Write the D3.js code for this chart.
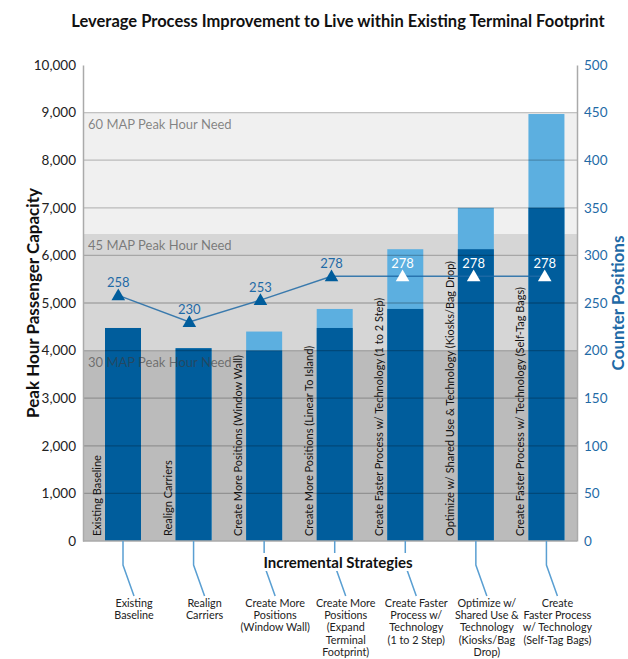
<!DOCTYPE html>
<html>
<head>
<meta charset="utf-8">
<script src="https://d3js.org/d3.v7.min.js"></script>
<style>
  body { margin: 0; background: #fff; }
  svg { font-family: Lato, "Open Sans", sans-serif; }
</style>
</head>
<body>
<script>
//wrap script in a self-executing function
(function() {

//chart data
    var categories = ['Existing Baseline', 'Realign Carriers', 'Create More Positions (Window Wall)',
        'Create More Positions (Linear To Island)', 'Create Faster Process w/ Technology (1 to 2 Step)',
        'Optimize w/ Shared Use & Technology (Kiosks/Bag Drop)', 'Create Faster Process w/ Technology (Self-Tag Bags)'];
    var baseCapacity = [4475, 4050, 4000, 4475, 4875, 6130, 7000];     //dark blue part
    var addedCapacity = [0, 0, 400, 400, 1255, 870, 1970];             //light blue part on top
    var counterPositions = [258, 230, 253, 278, 278, 278, 278];
    var bottomLabels = [
        ['Existing', 'Baseline'],
        ['Realign', 'Carriers'],
        ['Create More', 'Positions', '(Window Wall)'],
        ['Create More', 'Positions', '(Expand', 'Terminal', 'Footprint)'],
        ['Create Faster', 'Process w/', 'Technology', '(1 to 2 Step)'],
        ['Optimize w/', 'Shared Use &', 'Technology', '(Kiosks/Bag', 'Drop)'],
        ['Create', 'Faster Process', 'w/ Technology', '(Self-Tag Bags)']
    ];
    var needBands = [
        {label: '60 MAP Peak Hour Need', lo: 6450, hi: 9000, color: '#f0f0f0'},
        {label: '45 MAP Peak Hour Need', lo: 4000, hi: 6450, color: '#d6d6d6'},
        {label: '30 MAP Peak Hour Need', lo: 0, hi: 4000, color: '#bbbbbb'}
    ];
    var leftTicks = d3.range(0, 10001, 1000);
    var rightTicks = d3.range(0, 501, 50);

//frame dimensions
    var width = 628,
        height = 659,
        plotLeft = 83,
        plotRight = 577,
        plotTop = 65,
        plotBottom = 541;

    var darkBlue = '#005d9c',
        lightBlue = '#5cafe0',
        lineBlue = '#1f6aa6';

    var svg = d3.select('body')
        .append('svg')
        .attr('width', width)
        .attr('height', height);

    //scales
    var x = d3.scaleBand()
        .domain(categories)
        .range([plotLeft, plotRight]);

    var yLeft = d3.scaleLinear()
        .domain([0, 10000])
        .range([plotBottom, plotTop]);

    var yRight = d3.scaleLinear()
        .domain([0, 500])
        .range([plotBottom, plotTop]);

    var barOffset = 22,
        barWidth = 36;

    function barCenter(c) {
        return x(c) + barOffset + barWidth / 2;
    }

    //point scale for the counter line
    var xp = d3.scalePoint()
        .domain(categories)
        .range([x(categories[0]) + x.bandwidth() / 2, x(categories[6]) + x.bandwidth() / 2 + 3]);

    //title
    svg.append('text')
        .attr('x', 338)
        .attr('y', 27)
        .attr('text-anchor', 'middle')
        .style('font-size', '16.5px')
        .style('font-weight', 'bold')
        .style('fill', '#111')
        .text('Leverage Process Improvement to Live within Existing Terminal Footprint');

    //background need bands
    svg.selectAll('.band')
        .data(needBands)
        .enter()
        .append('rect')
        .attr('class', 'band')
        .attr('x', plotLeft)
        .attr('width', plotRight - plotLeft)
        .attr('y', function(d) { return yLeft(d.hi); })
        .attr('height', function(d) { return yLeft(d.lo) - yLeft(d.hi); })
        .style('fill', function(d) { return d.color; });

    //rotated category labels inside each band
    svg.selectAll('.catLabel')
        .data(categories)
        .enter()
        .append('text')
        .attr('class', 'catLabel')
        .attr('transform', function(d) {
            return 'translate(' + (x(d) + 18) + ',' + (plotBottom - 5) + ') rotate(-90)';
        })
        .style('font-size', '11px')
        .style('fill', '#111')
        .text(function(d) { return d; });

    //bars
    var bars = svg.selectAll('.bar')
        .data(categories)
        .enter()
        .append('g')
        .attr('class', 'bar');

    bars.append('rect')
        .attr('x', function(d) { return x(d) + barOffset; })
        .attr('width', barWidth)
        .attr('y', function(d, i) { return yLeft(baseCapacity[i] + addedCapacity[i]); })
        .attr('height', function(d, i) { return yLeft(0) - yLeft(baseCapacity[i] + addedCapacity[i]); })
        .style('fill', lightBlue);

    bars.append('rect')
        .attr('x', function(d) { return x(d) + barOffset; })
        .attr('width', barWidth)
        .attr('y', function(d, i) { return yLeft(baseCapacity[i]); })
        .attr('height', function(d, i) { return yLeft(0) - yLeft(baseCapacity[i]); })
        .style('fill', darkBlue);

    //gridlines drawn over the bars
    svg.selectAll('.grid')
        .data(leftTicks.filter(function(t) { return t > 0 && t < 10000; }))
        .enter()
        .append('line')
        .attr('class', 'grid')
        .attr('x1', plotLeft)
        .attr('x2', plotRight)
        .attr('y1', function(d) { return yLeft(d); })
        .attr('y2', function(d) { return yLeft(d); })
        .style('stroke', '#000')
        .style('stroke-opacity', 0.22)
        .style('stroke-width', 1.3);

    //need band labels
    svg.selectAll('.needLabel')
        .data(needBands)
        .enter()
        .append('text')
        .attr('class', 'needLabel')
        .attr('x', plotLeft + 5)
        .attr('y', function(d) { return yLeft(d.hi) + 16; })
        .style('font-size', '13px')
        .style('fill', '#3a3a3a')
        .style('fill-opacity', 0.6)
        .text(function(d) { return d.label; });

    //counter positions line
    var line = d3.line()
        .x(function(d, i) { return xp(categories[i]); })
        .y(function(d) { return yRight(d); });

    svg.append('path')
        .datum(counterPositions)
        .attr('d', line)
        .style('fill', 'none')
        .style('stroke', lineBlue)
        .style('stroke-opacity', 0.85)
        .style('stroke-width', 1.5);

    //markers white when sitting on a bar
    function onBar(i) {
        return yLeft(baseCapacity[i] + addedCapacity[i]) < yRight(counterPositions[i]);
    }

    svg.selectAll('.marker')
        .data(counterPositions)
        .enter()
        .append('path')
        .attr('class', 'marker')
        .attr('d', d3.symbol().type(d3.symbolTriangle).size(80))
        .attr('transform', function(d, i) {
            return 'translate(' + xp(categories[i]) + ',' + (yRight(d) + 1) + ')';
        })
        .style('fill', function(d, i) { return onBar(i) ? '#fff' : darkBlue; });

    svg.selectAll('.markerLabel')
        .data(counterPositions)
        .enter()
        .append('text')
        .attr('class', 'markerLabel')
        .attr('x', function(d, i) { return xp(categories[i]); })
        .attr('y', function(d) { return yRight(d) - 8; })
        .attr('text-anchor', 'middle')
        .style('font-size', '13px')
        .style('fill', function(d, i) { return onBar(i) ? '#fff' : lineBlue; })
        .text(function(d) { return d; });

    //left axis
    var leftAxis = svg.append('g')
        .attr('transform', 'translate(' + plotLeft + ',0)')
        .call(d3.axisLeft(yLeft).tickValues(leftTicks).tickSize(0).tickPadding(7).tickFormat(d3.format(',')));
    leftAxis.select('.domain').style('stroke', '#aaa').style('stroke-width', 1.5);
    leftAxis.selectAll('text')
        .style('font-family', 'Lato, sans-serif')
        .style('font-size', '13.5px')
        .style('fill', '#222');

    //right axis
    var rightAxis = svg.append('g')
        .attr('transform', 'translate(' + plotRight + ',0)')
        .call(d3.axisRight(yRight).tickValues(rightTicks).tickSize(0).tickPadding(7));
    rightAxis.select('.domain').style('stroke', '#aaa').style('stroke-width', 1.5);
    rightAxis.selectAll('text')
        .style('font-family', 'Lato, sans-serif')
        .style('font-size', '13.5px')
        .style('fill', lineBlue);

    //bottom axis line
    svg.append('line')
        .attr('x1', plotLeft)
        .attr('x2', plotRight)
        .attr('y1', plotBottom)
        .attr('y2', plotBottom)
        .style('stroke', '#aaa')
        .style('stroke-width', 1.5);

    //axis titles
    svg.append('text')
        .attr('transform', 'translate(39,' + ((plotTop + plotBottom) / 2) + ') rotate(-90)')
        .attr('text-anchor', 'middle')
        .style('font-size', '17px')
        .style('font-weight', 'bold')
        .style('fill', '#111')
        .text('Peak Hour Passenger Capacity');

    svg.append('text')
        .attr('transform', 'translate(624,' + ((plotTop + plotBottom) / 2) + ') rotate(-90)')
        .attr('text-anchor', 'middle')
        .style('font-size', '17px')
        .style('font-weight', 'bold')
        .style('fill', lineBlue)
        .text('Counter Positions');

    //leader lines from bars to bottom labels
    var leaders = svg.selectAll('.leader')
        .data(categories)
        .enter()
        .append('polyline')
        .attr('class', 'leader')
        .attr('points', function(d) {
            var cx = barCenter(d);
            return [[cx, plotBottom], [cx, plotBottom + 24], [cx + 11, plotBottom + 55]].join(' ');
        })
        .style('fill', 'none')
        .style('stroke', '#5a9fd2')
        .style('stroke-width', 1.5);

    //x axis title with white box behind it
    var xTitle = svg.append('text')
        .attr('x', 338)
        .attr('y', 568)
        .attr('text-anchor', 'middle')
        .style('font-size', '15px')
        .style('font-weight', 'bold')
        .style('fill', '#111')
        .text('Incremental Strategies');
    var bb = xTitle.node().getBBox();
    svg.insert('rect', function() { return xTitle.node(); })
        .attr('x', bb.x - 3)
        .attr('y', bb.y)
        .attr('width', bb.width + 6)
        .attr('height', bb.height)
        .style('fill', '#fff');

    //multi line labels under the chart
    var labels = svg.selectAll('.bottomLabel')
        .data(categories)
        .enter()
        .append('text')
        .attr('class', 'bottomLabel')
        .attr('text-anchor', 'middle')
        .style('font-size', '10.8px')
        .style('fill', '#222');

    labels.selectAll('tspan')
        .data(function(d, i) { return bottomLabels[i].map(function(s) { return {cat: d, s: s}; }); })
        .enter()
        .append('tspan')
        .attr('x', function(d) { return barCenter(d.cat) + 11; })
        .attr('y', function(d, j) { return 607 + j * 12.2; })
        .text(function(d) { return d.s; });

})();
</script>
</body>
</html>
